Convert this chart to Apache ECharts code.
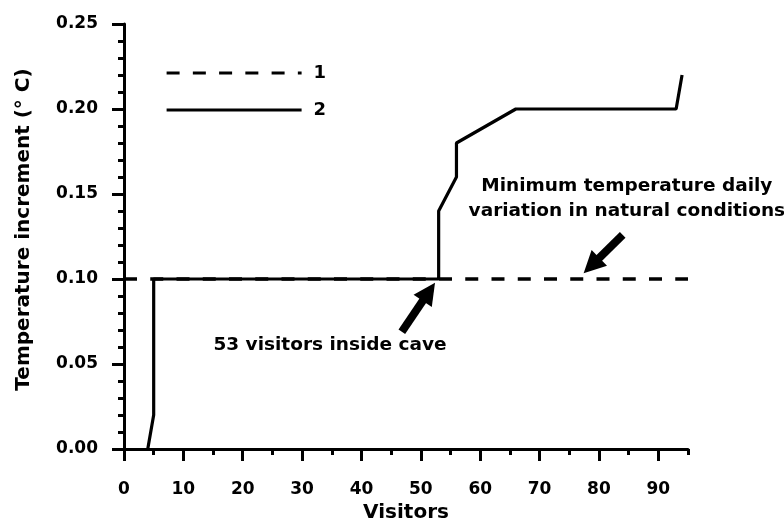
<!DOCTYPE html>
<html>
<head>
<meta charset="utf-8">
<script src="https://cdn.jsdelivr.net/npm/echarts@6/dist/echarts.min.js"></script>
<style>
html,body{margin:0;padding:0;background:#fff;}
#chart{width:784px;height:522px;}
</style>
</head>
<body>
<div id="chart"></div>
<script>
// ---- data ----
const seriesNames = ['1', '2'];
const visitors1 = [0, 95];
const temp1 = [0.10, 0.10];
const visitors2 = [4, 5, 5, 53, 53, 56, 56, 66, 93, 94];
const temp2 = [0.00, 0.02, 0.10, 0.10, 0.14, 0.16, 0.18, 0.20, 0.20, 0.22];
const xTickLabels = [0, 10, 20, 30, 40, 50, 60, 70, 80, 90];
const yTickLabels = [0.00, 0.05, 0.10, 0.15, 0.20, 0.25];
const xName = 'Visitors';
const yName = 'Temperature increment (° C)';
// annotations: [x, y] in data units
const note1Text = '53 visitors inside cave';
const note1Pos = [34.7, 0.061];
const arrow1 = [[46.8, 0.069], [51.35, 0.0925]];
const note2Text = 'Minimum temperature daily\nvariation in natural conditions';
const note2Pos = [84.7, 0.147];
const arrow2 = [[84.0, 0.1259], [78.74, 0.1079]];

const pairs = (xs, ys) => xs.map((x, i) => [x, ys[i]]);
const black = '#000';
const font = 'DejaVu Sans, Verdana, sans-serif';

const chart = echarts.init(document.getElementById('chart'), null, {renderer: 'canvas'});
const option = {
  animation: false,
  backgroundColor: '#fff',
  grid: {left: 124, right: 96, top: 24, bottom: 73, containLabel: false, outerBoundsMode: 'none'},
  legend: {
    orient: 'vertical',
    left: 165, top: 64, padding: 0,
    itemWidth: 135, itemHeight: 14, itemGap: 19,
    itemStyle: {opacity: 0},
    lineStyle: {width: 3.2},
    textStyle: {color: black, fontWeight: 'bold', fontSize: 18, fontFamily: font, padding: [0, 0, 0, 7]},
    data: seriesNames
  },
  xAxis: [{
    type: 'value', min: 0, max: 95, interval: 10,
    name: xName, nameLocation: 'middle', nameGap: 53,
    nameTextStyle: {color: black, fontWeight: 'bold', fontSize: 20, fontFamily: font},
    axisLine: {lineStyle: {color: black, width: 3}},
    axisTick: {length: 12, lineStyle: {color: black, width: 3}, customValues: xTickLabels},
    axisLabel: {color: black, fontWeight: 'bold', fontSize: 17, fontFamily: font, margin: 32, customValues: xTickLabels},
    splitLine: {show: false}
  }, {
    type: 'value', min: 0, max: 95, interval: 5, position: 'bottom',
    axisLine: {show: false},
    axisTick: {length: 6, lineStyle: {color: black, width: 3}},
    axisLabel: {show: false},
    splitLine: {show: false}
  }],
  yAxis: {
    type: 'value', min: 0, max: 0.25, interval: 0.05,
    name: yName, nameLocation: 'middle', nameGap: 90,
    nameTextStyle: {color: black, fontWeight: 'bold', fontSize: 20, fontFamily: font, padding: [0, 0, 0, 14]},
    axisLine: {lineStyle: {color: black, width: 3}},
    axisTick: {length: 12, lineStyle: {color: black, width: 3}},
    minorTick: {show: true, splitNumber: 5, length: 6, lineStyle: {color: black, width: 3}},
    axisLabel: {color: black, fontWeight: 'bold', fontSize: 17, fontFamily: font, margin: 26,
      formatter: v => v.toFixed(2)},
    splitLine: {show: false}
  },
  series: [{
    name: seriesNames[0], type: 'line', xAxisIndex: 0,
    data: pairs(visitors1, temp1),
    symbol: 'none', color: black,
    lineStyle: {color: black, width: 3.5, type: [13, 13.25], dashOffset: 0},
    z: 2
  }, {
    name: seriesNames[1], type: 'line', xAxisIndex: 0,
    data: pairs(visitors2, temp2),
    symbol: 'none', color: black,
    lineStyle: {color: black, width: 3.2, type: 'solid'},
    z: 3,
    markLine: {
      silent: true, animation: false,
      symbol: ['none', 'triangle'], symbolSize: [22, 22],
      lineStyle: {color: black, width: 8, type: 'solid'},
      label: {show: false},
      data: [
        [{coord: arrow1[0]}, {coord: arrow1[1]}],
        [{coord: arrow2[0]}, {coord: arrow2[1]}]
      ]
    },
    markPoint: {
      silent: true, symbol: 'circle', symbolSize: 0,
      label: {show: true, position: 'inside', color: black, fontWeight: 'bold', fontSize: 18.5,
        fontFamily: font, lineHeight: 25, align: 'center', verticalAlign: 'middle'},
      data: [
        {coord: note1Pos, value: 0, label: {formatter: note1Text}},
        {coord: note2Pos, value: 0, label: {formatter: note2Text}}
      ]
    }
  }]
};
chart.setOption(option);
</script>
</body>
</html>
